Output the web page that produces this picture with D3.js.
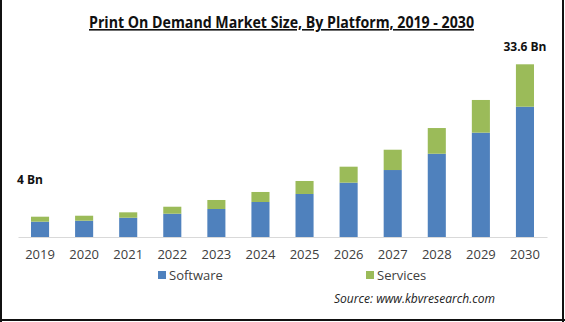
<!DOCTYPE html>
<html>
<head>
<meta charset="utf-8">
<script src="https://cdn.jsdelivr.net/npm/d3@7"></script>
<style>
  body { margin: 0; background: #fff; }
  svg { display: block; font-family: "Open Sans", "Liberation Sans", sans-serif; }
</style>
</head>
<body>
<div id="chart"></div>
<script>
function init() {

    var w = 565;
    var h = 322;

    // Data (USD Bn)
    var years = ["2019", "2020", "2021", "2022", "2023", "2024", "2025", "2026", "2027", "2028", "2029", "2030"];
    var software = [2.98, 3.17, 3.75, 4.53, 5.45, 6.81, 8.37, 10.57, 13.03, 16.2, 20.3, 25.35];
    var services = [0.97, 0.97, 1.05, 1.36, 1.75, 1.95, 2.53, 3.11, 3.95, 5.0, 6.36, 8.25];
    var seriesNames = ["Software", "Services"];
    var colors = ["#4f81bd", "#9bbb59"];

    var baseline = 237;

    var rows = years.map(function (y, i) {
        return { year: y, Software: software[i], Services: services[i] };
    });

    var stack = d3.stack().keys(seriesNames)(rows);

    var scaleX = d3.scaleBand()
        .domain(years)
        .range([18, 547])
        .paddingInner(0.59)
        .paddingOuter(0.295);

    var scaleY = d3.scaleLinear()
        .domain([0, 33.6])
        .range([baseline, 64.3]);

    var svg = d3.select("#chart")
        .append("svg")
        .attr("width", w)
        .attr("height", h);

    // frame (left, right, bottom)
    svg.append("rect").attr("x", 0).attr("y", 0).attr("width", 2).attr("height", h).attr("fill", "#111");
    svg.append("rect").attr("x", 562).attr("y", 0).attr("width", 2).attr("height", h).attr("fill", "#111");
    svg.append("rect").attr("x", 0).attr("y", 319).attr("width", w).attr("height", 2).attr("fill", "#111");

    // title
    svg.append("text")
        .attr("x", 281.5)
        .attr("y", 28)
        .attr("text-anchor", "middle")
        .attr("font-size", 16)
        .attr("font-weight", "bold")
        .attr("fill", "#111")
        .attr("text-decoration", "underline")
        .attr("textLength", 385)
        .attr("lengthAdjust", "spacingAndGlyphs")
        .text("Print On Demand Market Size, By Platform, 2019 - 2030");

    // bars
    svg.selectAll("g.series")
        .data(stack)
        .enter()
        .append("g")
        .attr("class", "series")
        .attr("fill", function (d, i) { return colors[i]; })
        .selectAll("rect")
        .data(function (d) { return d; })
        .enter()
        .append("rect")
        .attr("x", function (d) { return scaleX(d.data.year); })
        .attr("width", scaleX.bandwidth())
        .attr("y", function (d) { return scaleY(d[1]); })
        .attr("height", function (d) { return scaleY(d[0]) - scaleY(d[1]); });

    // axis
    var axis = svg.append("g")
        .attr("transform", "translate(0," + baseline + ")")
        .call(d3.axisBottom(scaleX).tickSize(0).tickPadding(13));
    axis.select(".domain").attr("stroke", "#d9d9d9").attr("stroke-width", 1);
    axis.selectAll("text")
        .attr("font-size", 13)
        .attr("fill", "#404040")
        .attr("font-family", "Open Sans, Liberation Sans, sans-serif");

    // value labels
    svg.append("text")
        .attr("x", 17)
        .attr("y", 184)
        .attr("font-size", 12)
        .attr("font-weight", "bold")
        .attr("fill", "#111")
        .text("4 Bn");

    svg.append("text")
        .attr("x", scaleX("2030") + scaleX.bandwidth() / 2)
        .attr("y", 51)
        .attr("text-anchor", "middle")
        .attr("font-size", 12)
        .attr("font-weight", "bold")
        .attr("fill", "#111")
        .text("33.6 Bn");

    // legend
    var legendX = [158, 366];
    var legend = svg.selectAll("g.legend")
        .data(seriesNames)
        .enter()
        .append("g")
        .attr("class", "legend")
        .attr("transform", function (d, i) { return "translate(" + legendX[i] + ",271)"; });
    legend.append("rect")
        .attr("width", 8)
        .attr("height", 8)
        .attr("fill", function (d, i) { return colors[i]; });
    legend.append("text")
        .attr("x", 11)
        .attr("y", 8.5)
        .attr("font-size", 13)
        .attr("fill", "#404040")
        .text(function (d) { return d; });

    // source
    svg.append("text")
        .attr("x", 334)
        .attr("y", 303)
        .attr("font-size", 12)
        .attr("font-style", "italic")
        .attr("fill", "#222")
        .attr("textLength", 161)
        .attr("lengthAdjust", "spacingAndGlyphs")
        .text("Source:  www.kbvresearch.com");
}

window.onload = init;
</script>
</body>
</html>
